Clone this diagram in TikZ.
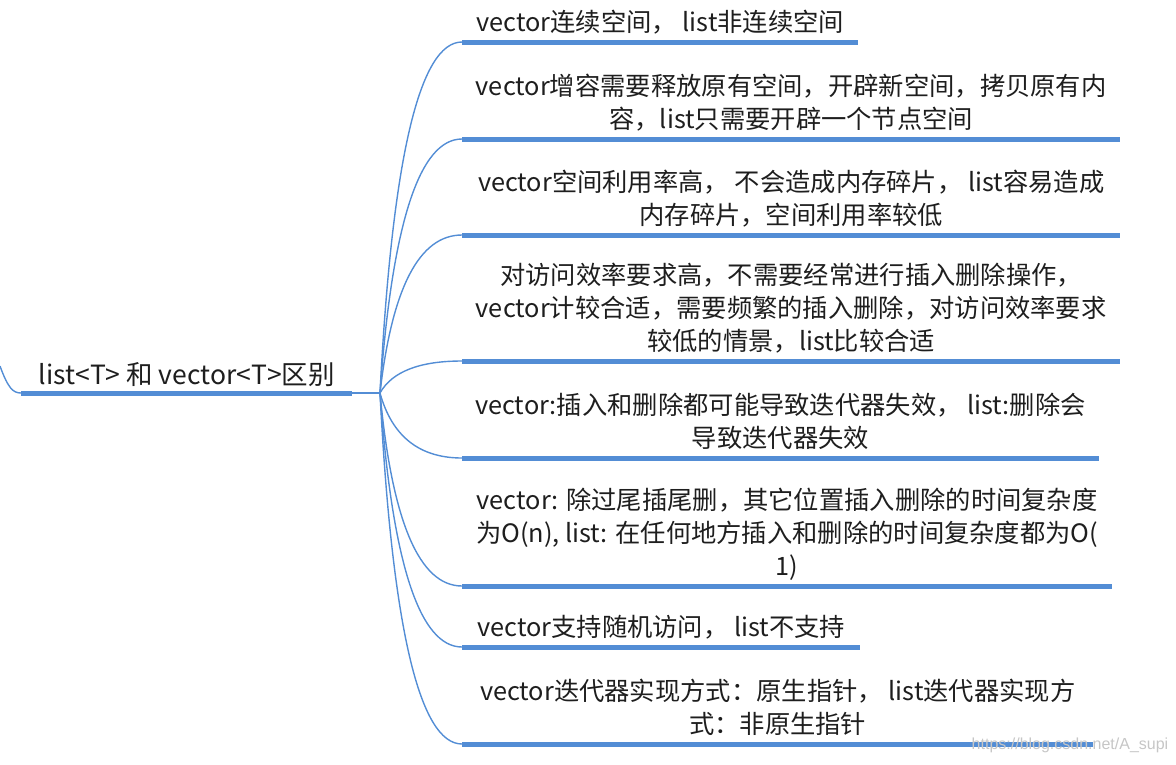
\documentclass[tikz,border=0pt]{standalone}
\usepackage{fontspec}
\newfontfamily\cjk{Noto Sans CJK SC}
\newfontfamily\wmfont{Liberation Sans}
\usetikzlibrary{calc}

\definecolor{mapblue}{RGB}{83,141,213}
\definecolor{maptext}{RGB}{30,30,30}

\tikzset{
  topic/.style={inner xsep=13pt, inner ysep=3pt, align=center, text=maptext,
    font=\cjk\fontsize{25.3}{33}\selectfont,
    execute at end node={\rule[-7.5pt]{0pt}{0pt}}},
  underline/.style={mapblue, line width=5pt},
  branch/.style={mapblue, line width=1.4pt},
}

\begin{document}
\begin{tikzpicture}[x=1pt,y=-1pt]
  \useasboundingbox (0,0) rectangle (1176,764);

  % Root topic
  \node[topic, font=\cjk\fontsize{26.5}{33}\selectfont, inner ysep=1pt, anchor=south west,
    minimum width=331pt] (root) at (21,393)
    {list<T> 和 vector<T>区别};
  \draw[underline] (root.south west) -- (root.south east);
  \coordinate (hub) at (380,393);
  \draw[branch] (root.south east) -- (hub);

  % link to the parent on the left
  \coordinate (up) at (0,366);
  \draw[branch] (up) .. controls (8,388) and (13,393) .. (root.south west);

  % Sub topics
  \node[topic, anchor=south west, minimum width=396pt] (c1) at (462,42)
    {vector连续空间， list非连续空间};
  \node[topic, anchor=south west, minimum width=658pt] (c2) at (462,139)
    {vector增容需要释放原有空间，开辟新空间，拷贝原有内\\容，list只需要开辟一个节点空间};
  \node[topic, anchor=south west, minimum width=658pt] (c3) at (462,235)
    {vector空间利用率高， 不会造成内存碎片， list容易造成\\内存碎片，空间利用率较低};
  \node[topic, anchor=south west, minimum width=658pt] (c4) at (462,361)
    {对访问效率要求高，不需要经常进行插入删除操作，\\vector计较合适，需要频繁的插入删除，对访问效率要求\\较低的情景，list比较合适};
  \node[topic, anchor=south west, minimum width=636pt] (c5) at (462,458)
    {vector:插入和删除都可能导致迭代器失效， list:删除会\\导致迭代器失效};
  \node[topic, anchor=south west, minimum width=650pt] (c6) at (462,586)
    {vector: 除过尾插尾删，其它位置插入删除的时间复杂度\\为O(n), list: 在任何地方插入和删除的时间复杂度都为O(\\1)};
  \node[topic, anchor=south west, minimum width=398pt] (c7) at (462,647)
    {vector支持随机访问， list不支持};
  \node[topic, anchor=south west, minimum width=631pt] (c8) at (462,744)
    {vector迭代器实现方式：原生指针， list迭代器实现方\\式：非原生指针};

  % Underlines and branches
  \foreach \i in {1,...,8}{
    \draw[underline] (c\i.south west) -- (c\i.south east);
    \coordinate (q\i) at ($(hub |- c\i.south west)+(18,0)$);
    \draw[branch] (hub) .. controls ($(hub)!2/3!(q\i)$) and ($(c\i.south west)!2/3!(q\i)$) .. (c\i.south west);
  }

  % Watermark
  \node[text=gray!45, font=\wmfont\fontsize{16}{18}\selectfont, inner sep=0pt] (mark) at (1070,745)
    {https://blog.csdn.net/A\_supi};
\end{tikzpicture}
\end{document}
